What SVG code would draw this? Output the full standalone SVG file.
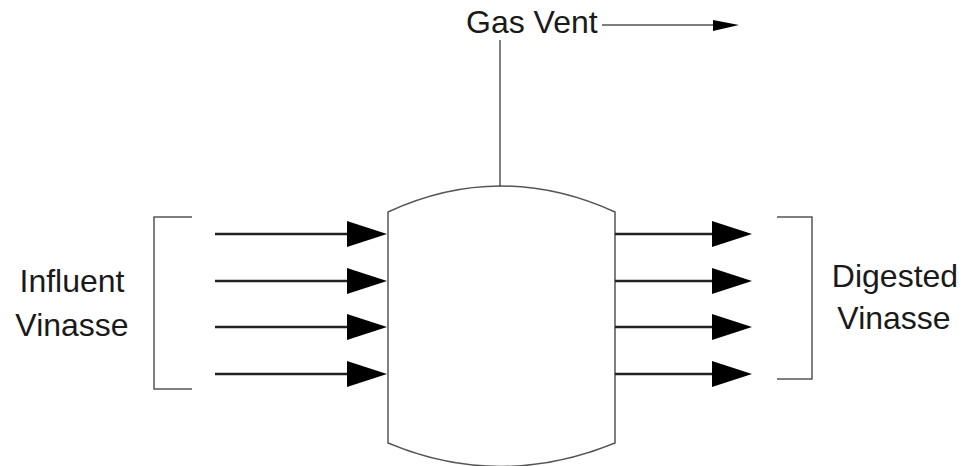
<svg xmlns="http://www.w3.org/2000/svg" width="966" height="466" viewBox="0 0 966 466">
<style>
.lbl{font-family:"Liberation Sans",Arial,sans-serif;font-size:32px;fill:#1a1a1a}
.flow{stroke:#222;stroke-width:2.5;fill:none}
.thin{stroke:#555;stroke-width:1.5;fill:none}
.head{fill:#000}
</style>
<rect width="966" height="466" fill="#fff"/>
<g id="vessel">
<path class="thin" d="M388,212 Q500,160 615,212 L615,443 Q500,490 388,443 Z" fill="#fff"/>
</g>
<g id="gas-vent">
<text class="lbl" x="466" y="33">Gas Vent</text>
</g>
<g id="influent">
<path class="thin" d="M192,217 H154 V389 H192"/>
<text class="lbl" x="72" y="292" text-anchor="middle">Influent</text>
<text class="lbl" x="72" y="336" text-anchor="middle">Vinasse</text>
</g>
<g id="digested">
<path class="thin" d="M777,217 H812 V379 H777"/>
<text class="lbl" x="895" y="287" text-anchor="middle">Digested</text>
<text class="lbl" x="894" y="329" text-anchor="middle">Vinasse</text>
</g>
<g id="connectors">
<line class="thin" x1="500" y1="40" x2="500" y2="187"/>
<line class="thin" x1="602" y1="25" x2="716" y2="25"/>
<polygon class="head" points="713,20 739,25 713,31"/>
<g>
<line class="flow" x1="215" y1="234" x2="350" y2="234"/>
<polygon class="head" points="347,221 387,234 347,247"/>
<line class="flow" x1="215" y1="281" x2="350" y2="281"/>
<polygon class="head" points="347,268 387,281 347,294"/>
<line class="flow" x1="215" y1="327" x2="350" y2="327"/>
<polygon class="head" points="347,314 387,327 347,340"/>
<line class="flow" x1="215" y1="374" x2="350" y2="374"/>
<polygon class="head" points="347,361 387,374 347,387"/>
</g>
<g>
<line class="flow" x1="615" y1="234" x2="715" y2="234"/>
<polygon class="head" points="712,221 752,234 712,247"/>
<line class="flow" x1="615" y1="281" x2="715" y2="281"/>
<polygon class="head" points="712,268 752,281 712,294"/>
<line class="flow" x1="615" y1="327" x2="715" y2="327"/>
<polygon class="head" points="712,314 752,327 712,340"/>
<line class="flow" x1="615" y1="374" x2="715" y2="374"/>
<polygon class="head" points="712,361 752,374 712,387"/>
</g>
</g>
</svg>
